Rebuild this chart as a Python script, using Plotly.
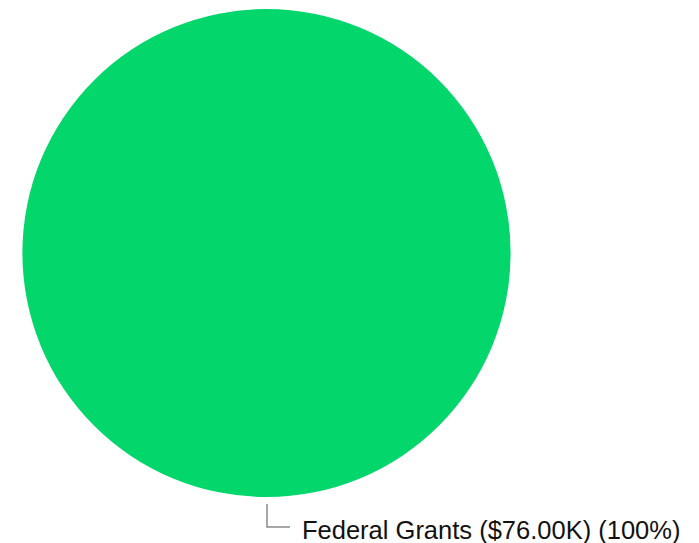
import plotly.graph_objects as go

labels = ["Federal Grants"]
values = [76.00]
colors = ["#03D66A"]
label_texts = ["Federal Grants ($76.00K) (100%)"]

W, H = 699, 543

fig = go.Figure(go.Pie(
    labels=labels,
    values=values,
    marker=dict(colors=colors, line=dict(width=0)),
    textinfo="none",
    hoverinfo="none",
    sort=False,
    showlegend=False,
    domain=dict(x=[22 / W, 511 / W], y=[46 / H, 534 / H]),
))

# leader line
fig.add_shape(type="path",
              path=f"M {267/W} {1-504/H} L {267/W} {1-527/H} L {290/W} {1-527/H}",
              xref="paper", yref="paper",
              line=dict(color="#8a8a8a", width=1.5))

fig.add_annotation(text=label_texts[0], x=300 / W, y=1 - 530 / H,
                   xref="paper", yref="paper", xanchor="left", yanchor="middle",
                   showarrow=False,
                   font=dict(family="Liberation Sans, Arial", size=25.5, color="#111111"))

fig.update_layout(width=W, height=H, margin=dict(l=0, r=0, t=0, b=0),
                  paper_bgcolor="white", plot_bgcolor="white")

fig.write_html("out.html", config={"displayModeBar": False},
               post_script="document.body.style.margin='0px';document.body.style.overflow='hidden';")
